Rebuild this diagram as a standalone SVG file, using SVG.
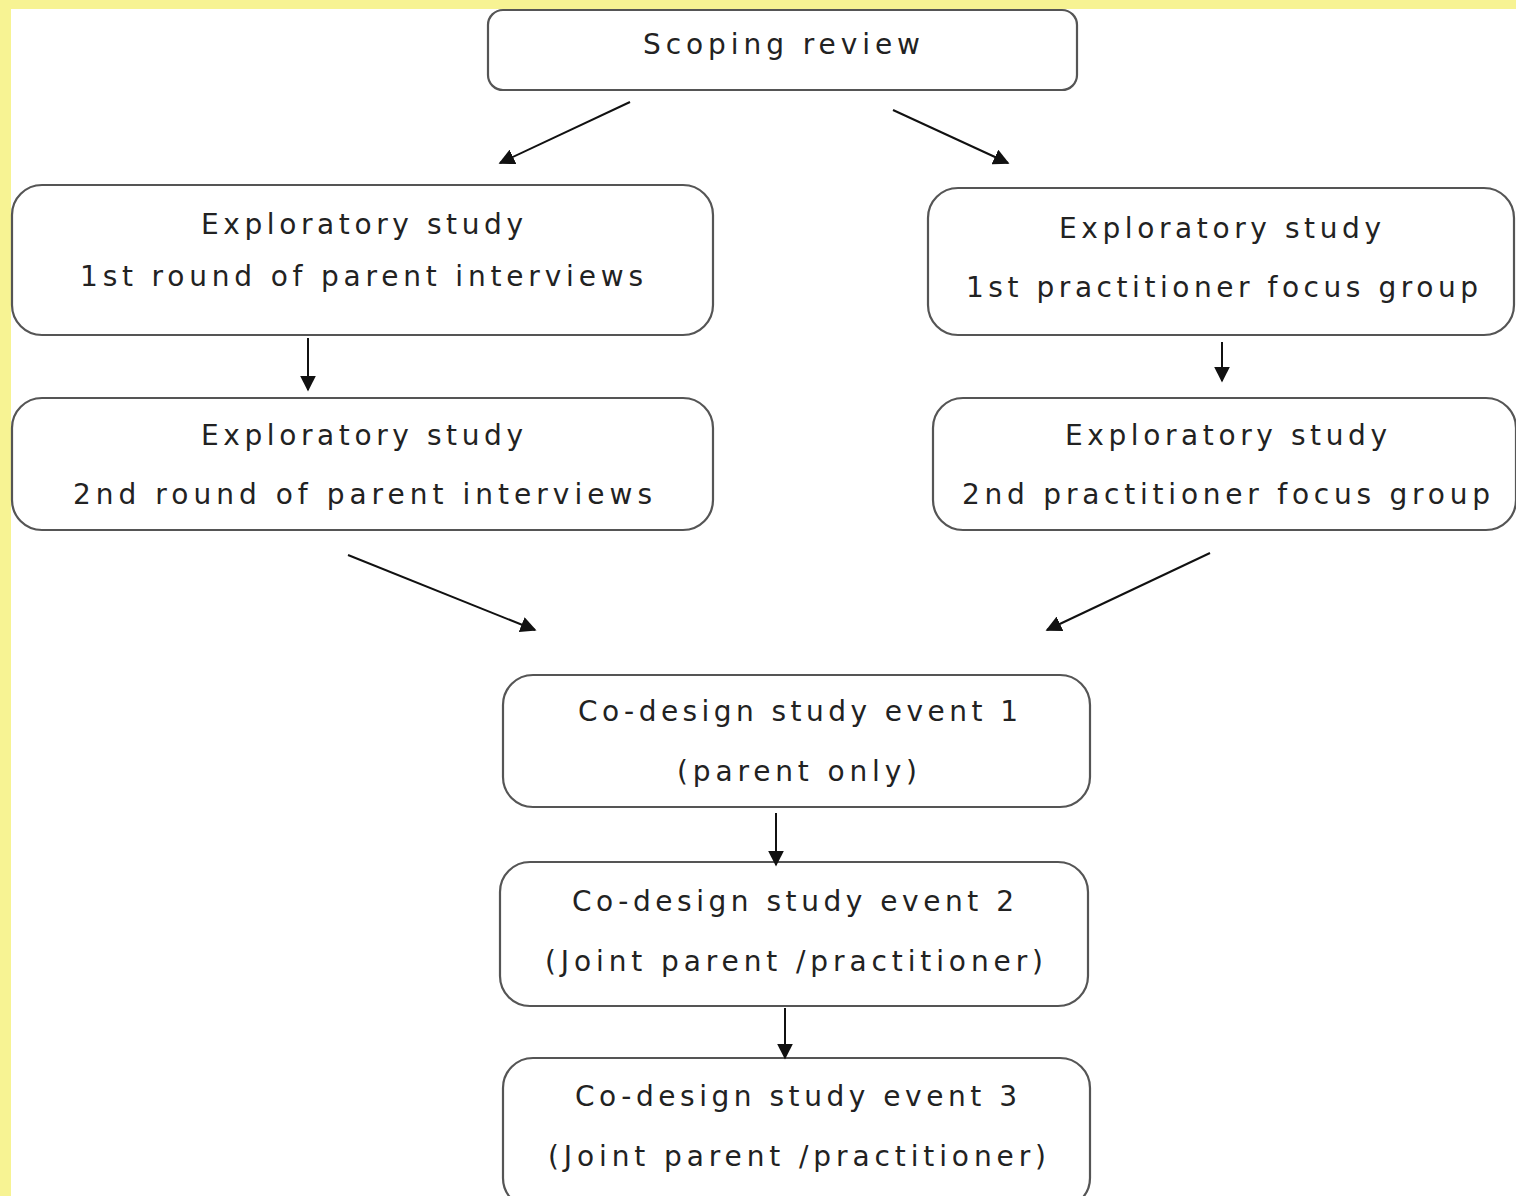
<svg xmlns="http://www.w3.org/2000/svg" width="1516" height="1196" viewBox="0 0 1516 1196">
<style>
.box{fill:#fff;stroke:#555;stroke-width:2.2}
.t{font-family:"DejaVu Sans","Verdana",sans-serif;font-size:28px;fill:#222;text-anchor:start}
.c{stroke:#111;stroke-width:2;fill:none;marker-end:url(#ah)}
</style>
<defs>
<marker id="ah" viewBox="0 0 10 10" refX="9" refY="5" markerWidth="16" markerHeight="16" markerUnits="userSpaceOnUse" orient="auto">
<path d="M0,0 L10,5 L0,10 Z" fill="#111"/>
</marker>
</defs>
<rect x="0" y="0" width="1516" height="1196" fill="#fff"/>
<rect x="0" y="0" width="1516" height="9" fill="#f7f393"/>
<rect x="0" y="0" width="11" height="1196" fill="#f7f393"/>
<g id="scoping">
<rect class="box" x="488" y="10" width="589" height="80" rx="15"/>
<text class="t" x="643" y="54" textLength="277" lengthAdjust="spacing">Scoping review</text>
</g>
<g id="exp-parent-1">
<rect class="box" x="12" y="185" width="701" height="150" rx="30"/>
<text class="t" x="201" y="234" textLength="322" lengthAdjust="spacing">Exploratory study</text>
<text class="t" x="80" y="286" textLength="563" lengthAdjust="spacing">1st round of parent interviews</text>
</g>
<g id="exp-pract-1">
<rect class="box" x="928" y="188" width="586" height="147" rx="30"/>
<text class="t" x="1059" y="238" textLength="322" lengthAdjust="spacing">Exploratory study</text>
<text class="t" x="966" y="297" textLength="512" lengthAdjust="spacing">1st practitioner focus group</text>
</g>
<g id="exp-parent-2">
<rect class="box" x="12" y="398" width="701" height="132" rx="30"/>
<text class="t" x="201" y="445" textLength="322" lengthAdjust="spacing">Exploratory study</text>
<text class="t" x="73" y="504" textLength="579" lengthAdjust="spacing">2nd round of parent interviews</text>
</g>
<g id="exp-pract-2">
<rect class="box" x="933" y="398" width="583" height="132" rx="30"/>
<text class="t" x="1065" y="445" textLength="322" lengthAdjust="spacing">Exploratory study</text>
<text class="t" x="962" y="504" textLength="528" lengthAdjust="spacing">2nd practitioner focus group</text>
</g>
<g id="codesign-1">
<rect class="box" x="503" y="675" width="587" height="132" rx="30"/>
<text class="t" x="578" y="721" textLength="440" lengthAdjust="spacing">Co-design study event 1</text>
<text class="t" x="677" y="781" textLength="240" lengthAdjust="spacing">(parent only)</text>
</g>
<g id="codesign-2">
<rect class="box" x="500" y="862" width="588" height="144" rx="30"/>
<text class="t" x="572" y="911" textLength="442" lengthAdjust="spacing">Co-design study event 2</text>
<text class="t" x="545" y="971" textLength="498" lengthAdjust="spacing">(Joint parent /practitioner)</text>
</g>
<g id="codesign-3">
<rect class="box" x="503" y="1058" width="587" height="150" rx="30"/>
<text class="t" x="575" y="1106" textLength="442" lengthAdjust="spacing">Co-design study event 3</text>
<text class="t" x="548" y="1166" textLength="498" lengthAdjust="spacing">(Joint parent /practitioner)</text>
</g>
<g id="connectors">
<line class="c" x1="630" y1="102" x2="500" y2="163"/>
<line class="c" x1="893" y1="110" x2="1008" y2="163"/>
<line class="c" x1="308" y1="338" x2="308" y2="390"/>
<line class="c" x1="1222" y1="342" x2="1222" y2="381"/>
<line class="c" x1="348" y1="555" x2="535" y2="630"/>
<line class="c" x1="1210" y1="553" x2="1047" y2="630"/>
<line class="c" x1="776" y1="813" x2="776" y2="865"/>
<line class="c" x1="785" y1="1008" x2="785" y2="1058"/>
</g>
</svg>
